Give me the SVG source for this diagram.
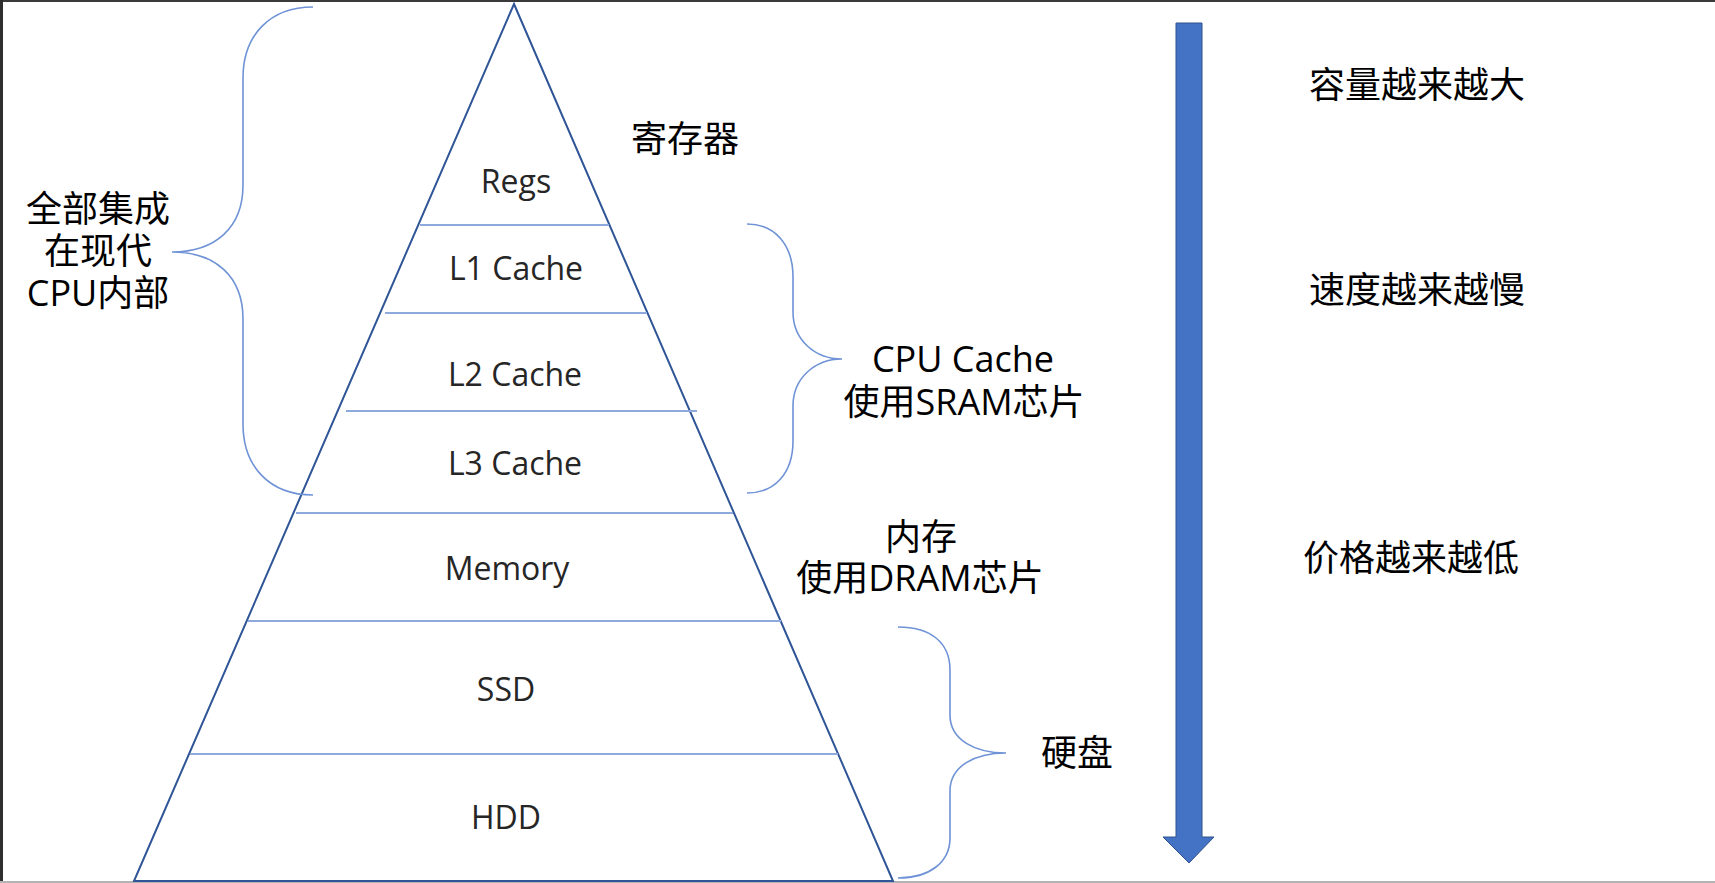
<svg xmlns="http://www.w3.org/2000/svg" width="1715" height="883" viewBox="0 0 1715 883">
<style>
.lbl{font-family:"Open Sans","Noto Sans CJK SC",sans-serif;font-size:32px;fill:#262626;text-anchor:middle}
.big{font-family:"Open Sans","Noto Sans CJK SC",sans-serif;font-size:36px;fill:#000;text-anchor:middle}
.brace{fill:none;stroke:#6f93d6;stroke-width:1.6}
.sep{stroke:#8eaadc;stroke-width:2}
</style>
<rect x="0" y="0" width="1715" height="883" fill="#ffffff"/>
<rect x="0" y="0" width="1715" height="2" fill="#3a3a3a"/>
<rect x="0" y="0" width="3" height="883" fill="#2e2e2e"/>
<rect x="0" y="881" width="1715" height="2" fill="#b4b4b4"/>

<g id="pyramid">
<polygon points="514,4 893,881 134,881" fill="none" stroke="#2f5597" stroke-width="2"/>
</g>

<g id="connectors">
<line class="sep" x1="420" y1="225" x2="609" y2="225"/>
<line class="sep" x1="385" y1="313" x2="647" y2="313"/>
<line class="sep" x1="346" y1="411" x2="697" y2="411"/>
<line class="sep" x1="296" y1="513" x2="733" y2="513"/>
<line class="sep" x1="248" y1="621" x2="781" y2="621"/>
<line class="sep" x1="190" y1="754" x2="838" y2="754"/>
<path class="brace" d="M313,7 C270,7 243,35 243,78 L243,185 C243,228 215,252 172,252 C215,252 243,276 243,319 L243,424 C243,467 270,495 313,495"/>
<path class="brace" d="M747,224 C775,224 793,245 793,277 L793,312 C793,340 815,359 842,359 C815,359 793,378 793,406 L793,441 C793,473 775,493 747,493"/>
<path class="brace" d="M898,627 C930,627 950,642 950,670 L950,715 C950,740 975,753 1006,753 C975,753 950,766 950,791 L950,838 C950,862 930,878 898,878"/>
<polygon points="1176,23 1202,23 1202,837 1214,837 1189,863 1163,837 1176,837" fill="#4472c4" stroke="#2f528f" stroke-width="1"/>
</g>

<g id="regs"><text class="lbl" x="516" y="193">Regs</text></g>
<g id="l1"><text class="lbl" x="516" y="280">L1 Cache</text></g>
<g id="l2"><text class="lbl" x="515" y="386">L2 Cache</text></g>
<g id="l3"><text class="lbl" x="515" y="475">L3 Cache</text></g>
<g id="memory"><text class="lbl" x="507" y="580">Memory</text></g>
<g id="ssd"><text class="lbl" x="506" y="701">SSD</text></g>
<g id="hdd"><text class="lbl" x="506" y="829">HDD</text></g>

<g id="label-cpu-integrated">
<text class="big"><tspan x="98" y="222">全部集成</tspan><tspan x="98" y="264">在现代</tspan><tspan x="98" y="306">CPU内部</tspan></text>
</g>
<g id="label-registers"><text class="big" x="685" y="152">寄存器</text></g>
<g id="label-cpu-cache">
<text class="big"><tspan x="963" y="372">CPU Cache</tspan><tspan x="964" y="415">使用SRAM芯片</tspan></text>
</g>
<g id="label-memory">
<text class="big"><tspan x="921" y="550">内存</tspan><tspan x="920" y="591">使用DRAM芯片</tspan></text>
</g>
<g id="label-disk"><text class="big" x="1077" y="766">硬盘</text></g>
<g id="label-right">
<text class="big" x="1417" y="98">容量越来越大</text>
<text class="big" x="1417" y="303">速度越来越慢</text>
<text class="big" x="1411" y="571">价格越来越低</text>
</g>
</svg>
